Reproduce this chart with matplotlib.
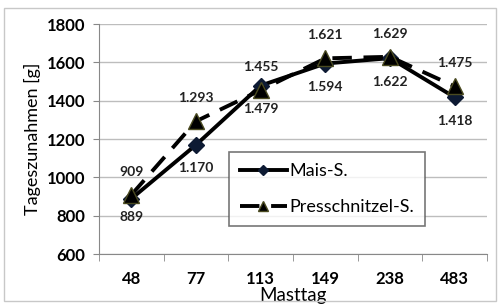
import numpy as np
import matplotlib.pyplot as plt
from matplotlib.patches import Rectangle

# Tageszunahmen nach Masttag
masttag = ["48", "77", "113", "149", "238", "483"]
mais = [889, 1170, 1479, 1594, 1622, 1418]
press = [909, 1293, 1455, 1621, 1629, 1475]
y_ticks = [600, 800, 1000, 1200, 1400, 1600, 1800]

# label offsets (points) below the Mais markers
mais_lbl_dy = [-13.5, -17, -17, -17, -17, -17]

plt.rcParams['font.family'] = ['Lato', 'DejaVu Sans']


def de_fmt(v):
    # German thousands separator
    return "{:,}".format(v).replace(",", ".")


fig = plt.figure(figsize=(5, 3.04), dpi=100)
fig.patches.append(Rectangle((0.008, 0.01), 0.984, 0.965, transform=fig.transFigure,
                             fill=False, edgecolor="#c8c8c8", linewidth=1))
ax = fig.add_axes([0.198, 0.164, 0.776, 0.757])

x = np.arange(len(masttag))
ax.plot(x, mais, color="black", linewidth=2.8, marker="D", markersize=8,
        markerfacecolor="#0d1a33", markeredgecolor="#0d1a33", label="Mais-S.", zorder=3)
ax.plot(x, press, color="black", linewidth=2.8, dashes=(5, 3), marker="^", markersize=11,
        markerfacecolor="black", markeredgecolor="#4a4a20", label="Presschnitzel-S.", zorder=4)

for i in range(len(x)):
    ax.annotate(de_fmt(mais[i]), (x[i], mais[i]), xytext=(0, mais_lbl_dy[i]), textcoords="offset points",
                ha="center", va="center", fontsize=10, fontweight="bold", color="#222222")
    ax.annotate(de_fmt(press[i]), (x[i], press[i]), xytext=(0, 16.5), textcoords="offset points",
                ha="center", va="center", fontsize=10, fontweight="bold", color="#222222")

ax.set_xlim(-0.5, len(masttag) - 0.5)
ax.set_ylim(600, 1800)
ax.set_yticks(y_ticks)
ax.set_xticks(x)
ax.set_xticklabels(masttag)
ax.set_xticks(np.arange(-0.5, len(masttag)), minor=True)
ax.tick_params(axis="x", which="major", length=0, labelsize=12, pad=12)
ax.tick_params(axis="x", which="minor", length=5, color="#888888")
ax.tick_params(axis="y", length=4, color="#888888", labelsize=12, pad=6)
for lab in ax.get_xticklabels() + ax.get_yticklabels():
    lab.set_fontweight("bold")

ax.yaxis.grid(True, color="#bdbdbd", linewidth=1)
ax.set_axisbelow(True)
for s in ["top", "right"]:
    ax.spines[s].set_visible(False)
ax.spines["left"].set_color("#888888")
ax.spines["bottom"].set_color("#888888")

ax.set_ylabel("Tageszunahmen [g]", fontsize=13, labelpad=4)
ax.set_xlabel("Masttag", fontsize=13.5, labelpad=0)

leg = ax.legend(loc="upper left", bbox_to_anchor=(0.335, 0.443), fontsize=13,
                frameon=True, fancybox=False, handlelength=2.6, handletextpad=0.15,
                labelspacing=1.1, borderpad=0.6, borderaxespad=0, markerscale=0.6)
leg.get_frame().set_edgecolor("#555555")
leg.get_frame().set_linewidth(1.2)

fig.savefig("out.png", dpi=100)
